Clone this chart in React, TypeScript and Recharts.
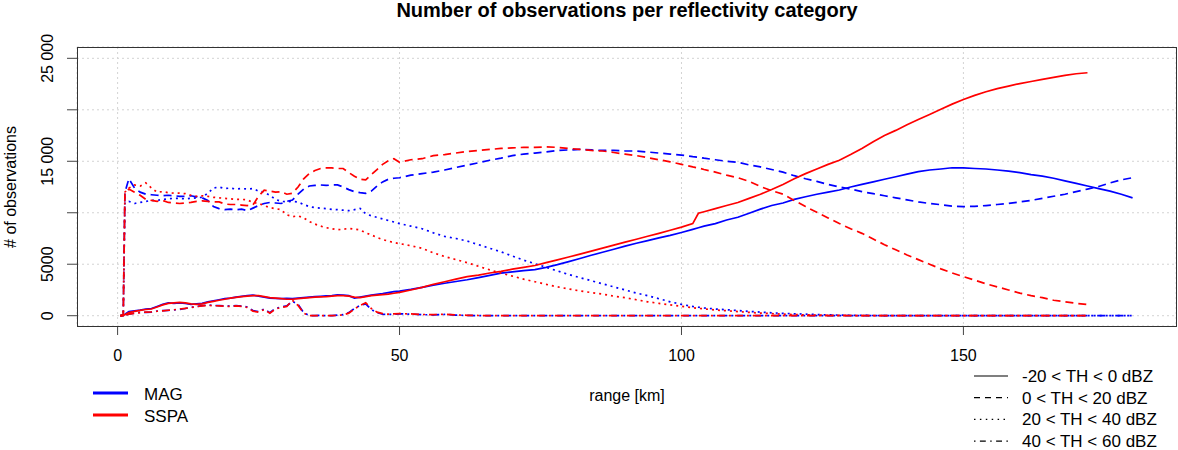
import { LineChart, Line, XAxis, YAxis, CartesianGrid, Legend } from 'recharts';

// range along the beam [km]
const KM = [
  0.5, 1, 1.3,
  2, 3, 4, 5, 6, 7, 8, 9, 10, 11,
  12, 13, 14, 15, 16, 17, 18, 19, 20, 21,
  22, 23, 24, 25, 26, 27, 28, 29, 30, 31,
  32, 33, 34, 35, 36, 37, 38, 39, 40, 41,
  42, 43, 44, 45, 46, 47, 48, 49, 50,
  52, 54, 56, 58, 60, 62, 64, 66, 68, 70,
  72, 74, 76, 78, 80, 82, 84, 86, 88, 90,
  92, 94, 96, 98, 100, 102,
  103,
  104, 106, 108, 110, 112, 114, 116, 118, 120, 122,
  124, 126, 128, 130, 132, 134, 136, 138, 140, 142,
  144, 146, 148, 150, 152, 154, 156, 158, 160, 162,
  164, 166, 168, 170, 172, 174, 176, 178, 180,
];

const MAG_SOLID = [
  0, 80, 150,
  400, 480, 540, 650, 700, 900, 1100, 1250, 1200, 1250,
  1200, 1100, 1150, 1200, 1350, 1450, 1550, 1650, 1700, 1800,
  1880, 1950, 2000, 1900, 1800, 1700, 1680, 1650, 1680, 1650,
  1700, 1750, 1800, 1850, 1880, 1920, 1960, 2030, 2000, 1950,
  1710, 1800, 1900, 2000, 2080, 2150, 2250, 2330, 2380,
  2550, 2750, 2970, 3150, 3320, 3490, 3700, 3920, 4130, 4250,
  4380, 4480, 4700, 4960, 5250, 5560, 5870, 6160, 6450, 6760,
  7040, 7300, 7560, 7800, 8080, 8380,
  8540,
  8700, 8950, 9300, 9560, 9950, 10350, 10700, 10950, 11300, 11550,
  11800, 12000, 12210, 12500, 12750, 13000, 13250, 13500, 13750, 14000,
  14150, 14250, 14370, 14350, 14300, 14250, 14150, 14050, 13900, 13700,
  13550, 13350, 13100, 12850, 12600, 12350, 12100, 11800, 11450,
];

const SSPA_SOLID = [
  0, 50, 100,
  300, 420, 520, 600, 650, 850, 1050, 1200, 1250, 1300,
  1250, 1150, 1100, 1150, 1300, 1400, 1500, 1600, 1700, 1780,
  1850, 1900, 1950, 1950, 1850, 1750, 1700, 1650, 1600, 1600,
  1650, 1700, 1750, 1800, 1820, 1850, 1900, 1950, 1950, 1900,
  1800, 1750, 1850, 1950, 2000, 2050, 2100, 2180, 2260,
  2500, 2750, 3050, 3300, 3550, 3800, 3950, 4150, 4300, 4520,
  4700, 4880, 5150, 5420, 5700, 5980, 6270, 6560, 6850, 7150,
  7430, 7720, 8000, 8300, 8600, 8950,
  9950,
  10100, 10400, 10700, 11000, 11400, 11800, 12250, 12750, 13300, 13800,
  14250, 14700, 15100, 15650, 16250, 16900, 17500, 18000, 18550, 19050,
  19550, 20050, 20550, 21000, 21400, 21750, 22050, 22300, 22550, 22750,
  22950, 23150, 23350, 23500, 23600, null, null, null, null,
];

const MAG_DASHED = [
  0, 0, 12000,
  13300, 12400, 12000, 11800, 11750, 11700, 11650, 11700, 11650, 11600,
  11600, 11650, 11550, 11450, 11200, 10600, 10400, 10300, 10350, 10300,
  10350, 10200, 10450, 10700, 10900, 11000, 10950, 10900, 11100, 11240,
  11800, 12300, 12600, 12650, 12700, 12650, 12700, 12700, 12500, 12250,
  12050, 11950, 11880, 12100, 12600, 13000, 13250, 13350, 13400,
  13650, 13800, 13950, 14150, 14400, 14630, 14850, 15100, 15300, 15550,
  15700, 15800, 15900, 16050, 16100, 16150, 16100, 16050, 16050, 16000,
  16000, 15900, 15800, 15700, 15600, 15450,
  15400,
  15300, 15150, 15000, 14900, 14650, 14450, 14200, 13950, 13600, 13300,
  13050, 12750, 12500, 12300, 12050, 11850, 11650, 11450, 11250, 11050,
  10900, 10780, 10650, 10600, 10620, 10700, 10800, 10900, 11050, 11200,
  11400, 11600, 11800, 12050, 12300, 12550, 12900, 13200, 13400,
];

const SSPA_DASHED = [
  0, 0, 12000,
  12300, 12000, 11700, 11300, 11200, 11100, 11200, 11000, 10950, 10900,
  10950, 11000, 11100, 11150, 11100, 11050, 11050, 10850, 10800, 10800,
  10750, 10700, 10750, 11600, 12200, 12100, 12000, 12050, 11800, 11900,
  12500, 13300, 13800, 14100, 14300, 14350, 14350, 14300, 14300, 13900,
  13550, 13250, 13200, 13700, 14200, 14700, 15050, 15250, 14900,
  15150, 15250, 15550, 15650, 15800, 15950, 16050, 16150, 16250, 16300,
  16350, 16350, 16400, 16350, 16250, 16150, 16050, 16000, 15850, 15700,
  15550, 15350, 15150, 14950, 14700, 14450,
  14350,
  14200, 13950, 13650, 13400, 13050, 12550, 12150, 11800, 11200, 10600,
  10050, 9500, 8950, 8450, 8000, 7450, 6900, 6400, 5900, 5450,
  5000, 4550, 4150, 3800, 3450, 3100, 2800, 2500, 2200, 1950,
  1750, 1500, 1350, 1200, 1080, null, null, null, null,
];

const MAG_DOTTED = [
  0, 0, 11000,
  11100, 10900, 11000, 11100, 11200, 11200, 11300, 11350, 11400, 11400,
  11350, 11400, 11450, 11500, 11900, 12400, 12500, 12350, 12400, 12300,
  12350, 12300, 12350, 12100, 12000, 11700, 11300, 11100, 11080, 11100,
  11050, 10800, 10600, 10500, 10450, 10400, 10330, 10300, 10250, 10200,
  10300, 10430, 9900, 9700, 9550, 9400, 9250, 9100, 8950,
  8700, 8450, 8050, 7700, 7500, 7250, 6900, 6550, 6200, 5800,
  5400, 5050, 4700, 4350, 4000, 3700, 3400, 3100, 2800, 2500,
  2200, 1950, 1650, 1350, 1100, 900,
  820,
  750, 650, 580, 500, 420, 350, 280, 230, 190, 150,
  110, 80, 60, 40, 30, 20, 15, 10, 5, 5,
  5, 5, 5, 5, 5, 5, 5, 5, 5, 5,
  5, 5, 5, 5, 5, 5, 5, 5, 5,
];

const SSPA_DOTTED = [
  0, 0, 12000,
  12400, 12700, 12600, 12900, 12400, 12000, 12050, 11950, 11900, 11900,
  11850, 11700, 11600, 11650, 11600, 11500, 11450, 11400, 11350, 11300,
  11300, 11250, 11000, 10900, 10700, 10500, 10400, 10300, 9800, 9620,
  9700, 9500, 9150, 8900, 8700, 8550, 8450, 8350, 8400, 8480,
  8400, 8330, 8050, 7850, 7600, 7400, 7250, 7100, 7000,
  6800, 6550, 6100, 5750, 5450, 5150, 4800, 4450, 4130, 3850,
  3550, 3300, 3050, 2800, 2600, 2400, 2250, 2100, 1900, 1750,
  1550, 1350, 1200, 1050, 920, 780,
  720,
  660, 560, 480, 400, 320, 260, 200, 150, 110, 80,
  60, 40, 30, 20, 10, 10, 10, 10, 10, 10,
  10, 10, 10, 10, 10, 10, 10, 10, 10, 10,
  10, 10, 10, 10, 10, null, null, null, null,
];

const MAG_DOTDASH = [
  0, 0, 30,
  160, 250, 320, 330, 350, 450, 490, 520, 560, 620,
  700, 810, 900, 970, 1050, 1000, 970, 940, 950, 970,
  930, 850, 500, 400, 650, 300, 700, 850, 950, 1400,
  1100, 300, 0, 0, 30, 0, 0, 50, 100, 300,
  700, 1000, 1150, 600, 300, 150, 120, 150, 180,
  150, 100, 80, 120, 60, 30, 10, 0, 0, 0,
  0, 0, 0, 0, 0, 0, 0, 0, 0, 0,
  0, 0, 0, 0, 0, 0,
  0,
  0, 0, 0, 0, 0, 0, 0, 0, 0, 0,
  0, 0, 0, 0, 0, 0, 0, 0, 0, 0,
  0, 0, 0, 0, 0, 0, 0, 0, 0, 0,
  0, 0, 0, 0, 0, 0, 0, 0, 0,
];

const SSPA_DOTDASH = [
  0, 0, 20,
  150, 230, 300, 350, 380, 430, 470, 530, 580, 650,
  720, 780, 880, 950, 1000, 980, 950, 920, 900, 950,
  900, 800, 450, 350, 600, 250, 650, 800, 900, 1500,
  1000, 250, 0, 0, 20, 0, 0, 30, 80, 250,
  650, 1000, 1250, 700, 350, 200, 150, 180, 200,
  180, 120, 100, 150, 80, 40, 20, 10, 0, 0,
  0, 0, 0, 0, 0, 0, 0, 0, 0, 0,
  0, 0, 0, 0, 0, 0,
  0,
  0, 0, 0, 0, 0, 0, 0, 0, 0, 0,
  0, 0, 0, 0, 0, 0, 0, 0, 0, 0,
  0, 0, 0, 0, 0, 0, 0, 0, 0, 0,
  0, 0, 0, 0, 0, null, null, null, null,
];

const INSTRUMENTS = ['MAG', 'SSPA'];
const CATEGORIES = ['-20 < TH < 0 dBZ', '0 < TH < 20 dBZ', '20 < TH < 40 dBZ', '40 < TH < 60 dBZ'];
const X_TICKS = [0, 50, 100, 150];
const Y_TICKS = [0, 5000, 10000, 15000, 20000, 25000];
const Y_TICK_LABELS = ['0', '5000', '', '15 000', '', '25 000'];

const TITLE = 'Number of observations per reflectivity category';
const FONT = '"Liberation Sans", Arial, Helvetica, sans-serif';
const COLORS = ['#0000ff', '#ff0000'];
const PLOT_DASH = [undefined, '8 5', '2 4', '2 4 8 4'];
const LEGEND_DASH = [undefined, '6 5', '1.5 4.4', '1.5 4.4 5.9 4.4'];

const SERIES = [
  { key: 'magSolid', values: MAG_SOLID, inst: 0, cat: 0 },
  { key: 'magDashed', values: MAG_DASHED, inst: 0, cat: 1 },
  { key: 'magDotted', values: MAG_DOTTED, inst: 0, cat: 2 },
  { key: 'magDotdash', values: MAG_DOTDASH, inst: 0, cat: 3 },
  { key: 'sspaSolid', values: SSPA_SOLID, inst: 1, cat: 0 },
  { key: 'sspaDashed', values: SSPA_DASHED, inst: 1, cat: 1 },
  { key: 'sspaDotted', values: SSPA_DOTTED, inst: 1, cat: 2 },
  { key: 'sspaDotdash', values: SSPA_DOTDASH, inst: 1, cat: 3 },
];

const rows = KM.map((km, i) => {
  const row: Record<string, number | null> = { km };
  SERIES.forEach((s) => {
    row[s.key] = s.values[i] ?? null;
  });
  return row;
});

function YTick(props: any) {
  const { y, payload } = props;
  const label = Y_TICK_LABELS[Y_TICKS.indexOf(payload.value)];
  if (!label) return <g />;
  return (
    <text
      x={53}
      y={y}
      transform={`rotate(-90 53 ${y})`}
      textAnchor="middle"
      fontSize={16}
      fontFamily={FONT}
      fill="#000"
    >
      {label}
    </text>
  );
}

const yLabel = () => (
  <text x={16} y={187} transform="rotate(-90 16 187)" textAnchor="middle" fontSize={16} fontFamily={FONT} fill="#000">
    # of observations
  </text>
);

const xLabel = () => (
  <text x={627} y={401} textAnchor="middle" fontSize={16} fontFamily={FONT} fill="#000">
    range [km]
  </text>
);

function ChartLegend() {
  return (
    <svg width={1178} height={90} style={{ display: 'block', overflow: 'visible' }}>
      {INSTRUMENTS.map((name, i) => (
        <g key={name}>
          <line x1={93} x2={128} y1={33 + i * 22} y2={33 + i * 22} stroke={COLORS[i]} strokeWidth={3} />
          <text x={144} y={39.5 + i * 22} fontSize={17} fontFamily={FONT} fill="#000">
            {name}
          </text>
        </g>
      ))}
      {CATEGORIES.map((cat, i) => (
        <g key={cat}>
          <line
            x1={974}
            x2={1008}
            y1={16 + i * 21.7}
            y2={16 + i * 21.7}
            stroke="#000"
            strokeWidth={1.2}
            strokeDasharray={LEGEND_DASH[i]}
          />
          <text x={1022} y={22 + i * 21.7} fontSize={17} fontFamily={FONT} fill="#000">
            {cat}
          </text>
        </g>
      ))}
    </svg>
  );
}

export default function App() {
  return (
    <div style={{ position: 'absolute', left: 0, top: 0, width: 1178, height: 450, background: '#fff' }}>
      <svg width={1178} height={30} style={{ position: 'absolute', left: 0, top: 0 }}>
        <text x={627} y={17} textAnchor="middle" fontSize={20} fontWeight="bold" fontFamily={FONT} fill="#000">
          {TITLE}
        </text>
      </svg>
      <LineChart width={1178} height={450} data={rows} margin={{ top: 47, right: 2, bottom: 94, left: 7 }}>
        <CartesianGrid stroke="#d3d3d3" strokeDasharray="2 3" />
        <XAxis
          dataKey="km"
          type="number"
          domain={[-7.2, 187.7]}
          allowDataOverflow
          ticks={X_TICKS}
          height={30}
          tickSize={9}
          tickMargin={15}
          axisLine={false}
          tickLine={{ stroke: '#444' }}
          tick={{ fontSize: 16, fill: '#000', fontFamily: FONT }}
          label={xLabel}
        />
        <YAxis
          type="number"
          domain={[-1000, 26100]}
          allowDataOverflow
          ticks={Y_TICKS}
          width={70}
          tickSize={10}
          axisLine={false}
          tickLine={{ stroke: '#444' }}
          tick={<YTick />}
          label={yLabel}
        />
        {SERIES.map((s) => (
          <Line
            key={s.key}
            type="linear"
            dataKey={s.key}
            stroke={COLORS[s.inst]}
            strokeWidth={1.7}
            strokeDasharray={PLOT_DASH[s.cat]}
            dot={false}
            activeDot={false}
            isAnimationActive={false}
          />
        ))}
        <Legend
          content={<ChartLegend />}
          wrapperStyle={{ position: 'absolute', left: 0, top: 360, width: 1178, height: 0, overflow: 'visible' }}
        />
      </LineChart>
      <div
        style={{
          position: 'absolute',
          left: 77,
          top: 47,
          width: 1100,
          height: 280,
          border: '1px solid #333',
          boxSizing: 'border-box',
          pointerEvents: 'none',
        }}
      />
    </div>
  );
}
